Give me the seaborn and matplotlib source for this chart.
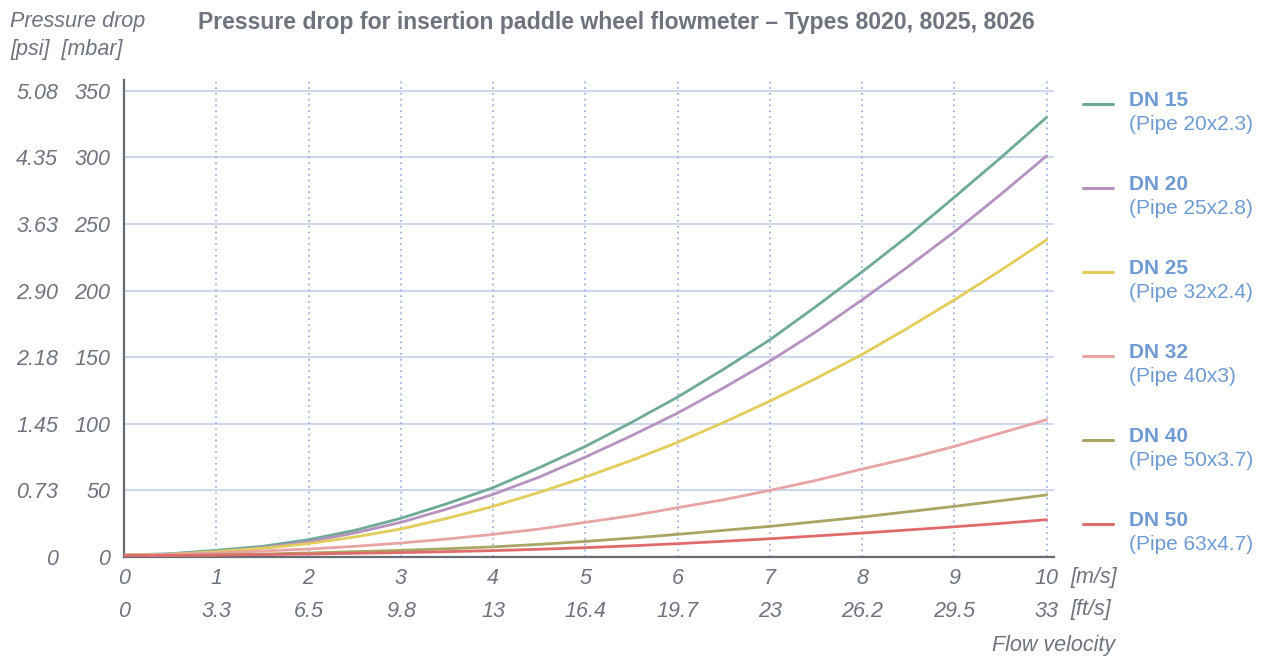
import matplotlib
matplotlib.use("Agg")
import matplotlib.pyplot as plt
from matplotlib.lines import Line2D
import numpy as np
import pandas as pd
import seaborn as sns

# Flow velocity [m/s]
velocity = [0, 0.5, 1, 1.5, 2, 2.5, 3, 3.5, 4, 4.5, 5, 5.5, 6, 6.5, 7, 7.5, 8, 8.5, 9, 9.5, 10]

# Pressure drop [mbar] per pipe size
dn15 = [1.5, 2.5, 5, 8, 13, 20, 29, 40, 52, 67, 83, 101, 120, 141, 163, 188, 214, 241, 270, 299.5, 330]
dn20 = [1.5, 2, 4, 7, 11.5, 18, 26, 36, 47, 60, 75, 91, 108, 127, 147, 169, 193, 218, 244, 272, 301]
dn25 = [1.5, 2, 4, 6.5, 10, 15, 21, 29, 38, 48.5, 60, 72.5, 86, 101, 117, 134, 152, 172, 193, 215, 238]
dn32 = [1.5, 2, 3, 4.5, 6, 8, 10.5, 13.5, 17, 21, 26, 31, 37, 43, 50, 57.5, 66, 74, 83, 93, 103]
dn40 = [1, 1.2, 1.6, 2.2, 3, 4, 5, 6.2, 7.6, 9.5, 11.7, 14.2, 17, 20, 23, 26.5, 30, 34, 38, 42.2, 46.6]
dn50 = [1, 1.1, 1.4, 1.8, 2.2, 2.8, 3.3, 4, 4.8, 5.8, 7, 8.4, 10, 11.8, 13.7, 15.8, 18, 20.3, 22.7, 25.2, 28]

series_names = ["DN 15", "DN 20", "DN 25", "DN 32", "DN 40", "DN 50"]
pipe_labels = ["(Pipe 20x2.3)", "(Pipe 25x2.8)", "(Pipe 32x2.4)", "(Pipe 40x3)", "(Pipe 50x3.7)", "(Pipe 63x4.7)"]
colors = ["#6dab97", "#b592bf", "#e3cd5a", "#e8a3a3", "#a9a563", "#e06b6b"]

ms_ticks = [0, 1, 2, 3, 4, 5, 6, 7, 8, 9, 10]
fts_labels = ["0", "3.3", "6.5", "9.8", "13", "16.4", "19.7", "23", "26.2", "29.5", "33"]
mbar_ticks = [0, 50, 100, 150, 200, 250, 300, 350]
psi_labels = ["0", "0.73", "1.45", "2.18", "2.90", "3.63", "4.35", "5.08"]

values = [dn15, dn20, dn25, dn32, dn40, dn50]
df = pd.DataFrame({
    "velocity": np.tile(velocity, len(series_names)),
    "pressure": np.concatenate(values),
    "pipe": np.repeat(series_names, len(velocity)),
})

sns.set_theme(style="white")
plt.rcParams["font.family"] = ["Liberation Sans", "DejaVu Sans"]

GRAY = "#6e737d"
BLUE = "#6f9bd2"
FS = 15.5

fig = plt.figure(figsize=(12.66, 6.57), dpi=100)
ax = fig.add_axes([124 / 1266, 1 - 557 / 657, (1054 - 124) / 1266, (557 - 80) / 657])

# grid: solid horizontal, dotted vertical
for y in mbar_ticks[1:]:
    ax.axhline(y, color="#c3d1ec", lw=1.2, zorder=0)
for x in ms_ticks[1:]:
    ax.axvline(x, color="#9fb3e2", lw=1.3, ls=(0, (1, 2.2)), zorder=0)

sns.lineplot(data=df, x="velocity", y="pressure", hue="pipe", palette=colors,
             linewidth=2.0, ax=ax, legend=False, zorder=3)

ax.set_xlim(0, 10.08)
ax.set_ylim(0, 358)
ax.set_xlabel("")
ax.set_ylabel("")

for side in ["top", "right"]:
    ax.spines[side].set_visible(False)
for side in ["left", "bottom"]:
    ax.spines[side].set_color("#676b74")
    ax.spines[side].set_linewidth(1.6)

tick_font = dict(fontsize=FS, style="italic", color=GRAY)
ax.set_xticks(ms_ticks)
ax.set_xticklabels([str(t) for t in ms_ticks], **tick_font)
ax.set_yticks(mbar_ticks)
ax.set_yticklabels([str(t) for t in mbar_ticks], **tick_font)
ax.tick_params(axis="both", length=0)
ax.tick_params(axis="x", pad=8)
ax.tick_params(axis="y", pad=10)

# second row of x labels in ft/s
sec_x = ax.secondary_xaxis(-0.068)
sec_x.set_xticks(ms_ticks)
sec_x.set_xticklabels(fts_labels, **tick_font)
sec_x.tick_params(length=0, pad=8)
sec_x.spines["bottom"].set_visible(False)

# second column of y labels in psi
sec_y = ax.secondary_yaxis(-0.056)
sec_y.set_yticks(mbar_ticks)
sec_y.set_yticklabels(psi_labels, **tick_font)
sec_y.tick_params(length=0, pad=10)
sec_y.spines["left"].set_visible(False)

# axis captions
fig.text(10 / 1266, 1 - 22 / 657, "Pressure drop", fontsize=FS, style="italic", color=GRAY, va="center", ha="left")
fig.text(10 / 1266, 1 - 50 / 657, "[psi]  [mbar]", fontsize=FS, style="italic", color=GRAY, va="center", ha="left")
fig.text(1070 / 1266, 1 - 577 / 657, "[m/s]", fontsize=FS, style="italic", color=GRAY, va="center", ha="left")
fig.text(1070 / 1266, 1 - 610 / 657, "[ft/s]", fontsize=FS, style="italic", color=GRAY, va="center", ha="left")
fig.text(1115 / 1266, 1 - 645 / 657, "Flow velocity", fontsize=FS, style="italic", color=GRAY, va="center", ha="right")

# title
fig.text(616 / 1266, 1 - 22 / 657, "Pressure drop for insertion paddle wheel flowmeter \u2013 Types 8020, 8025, 8026",
         fontsize=16.6, fontweight="bold", color=GRAY, va="center", ha="center")

# legend
for i, (name, pipe, col) in enumerate(zip(series_names, pipe_labels, colors)):
    y0 = 104 + i * 84
    fig.add_artist(Line2D([1083 / 1266, 1113 / 1266], [1 - y0 / 657, 1 - y0 / 657], color=col, lw=2.2))
    fig.text(1129 / 1266, 1 - (y0 - 4) / 657, name, fontsize=15, fontweight="bold", color=BLUE, va="center", ha="left")
    fig.text(1129 / 1266, 1 - (y0 + 21) / 657, pipe, fontsize=15, color=BLUE, va="center", ha="left")

fig.savefig("out.png", dpi=100)
